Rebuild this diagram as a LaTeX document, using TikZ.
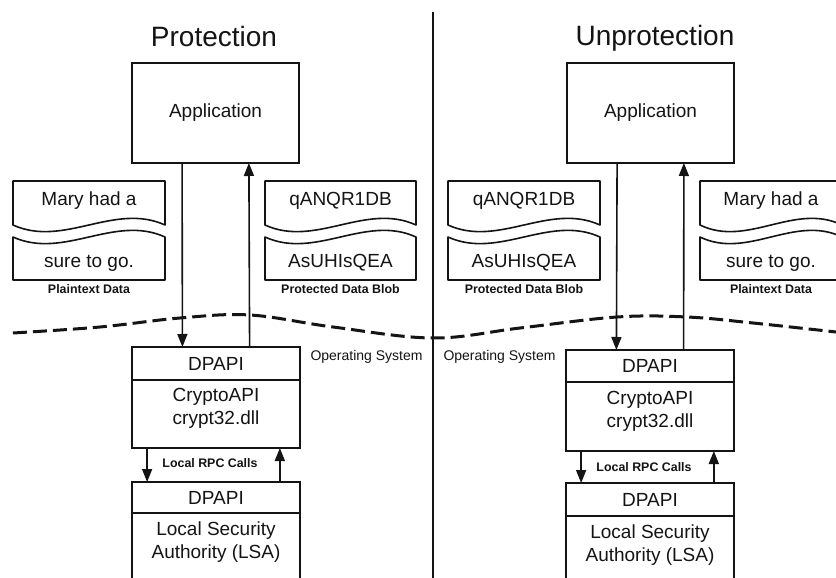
\documentclass[tikz,border=0pt]{standalone}
\usepackage{fontspec}
\setmainfont{Liberation Sans}
\usetikzlibrary{positioning,arrows.meta,calc}
\definecolor{ink}{RGB}{20,20,20}

\begin{document}
\begin{tikzpicture}[
  x=1pt, y=-1pt,
  >={Triangle[length=13pt,width=10pt]},
  box/.style={draw=ink, line width=1.6pt, inner sep=0pt, outer sep=0pt, align=center, text=ink, font=\fontsize{19}{23}\selectfont},
  hdr/.style={box, line width=1.8pt},
  ttl/.style={font=\fontsize{28}{32}\selectfont, text=ink, anchor=base},
  txt/.style={font=\fontsize{19}{23}\selectfont, text=ink, anchor=base},
  capt/.style={font=\bfseries\fontsize{12.4}{14}\selectfont, text=ink, anchor=base},
  os/.style={font=\fontsize{14}{16}\selectfont, text=ink, anchor=base west},
  flow/.style={->, line width=1.6pt, draw=ink},
  wave/.style={draw=ink, line width=1.6pt, line join=round},
]
\useasboundingbox (0,0) rectangle (836,578);
\fill[white] (0,0) rectangle (836,578);
\clip (0,0) rectangle (836,578);

% ---- titles and the split ----
\node[ttl] (tProt) at (214,47) {Protection};
\node[ttl] (tUnprot) at (655,46) {Unprotection};
\draw[ink, line width=2.8pt] (433,12) -- (433,578);

% ---- applications ----
\node[box, minimum width=167pt, minimum height=100pt] (appL) at (215.5,113) {Application};
\node[box, minimum width=167pt, minimum height=100pt] (appR) at (650.5,113) {Application};

% ---- data blobs (torn paper) ----
\foreach \x/\w/\nm/\ta/\tb/\cp in {13/152/plainL/Mary had a/sure to go./Plaintext Data,
    265/151/blobL/qANQR1DB/AsUHIsQEA/Protected Data Blob,
    448/152/blobR/qANQR1DB/AsUHIsQEA/Protected Data Blob,
    700/142/plainR/Mary had a/sure to go./Plaintext Data}{
  \draw[wave] (\x,181) -- ++(\w,0) -- ++(0,44) .. controls +(-\w/3,-23) and +(\w/3,23) .. ++(-\w,0) -- cycle;
  \draw[wave] (\x,237) .. controls +(\w/3,23) and +(-\w/3,-23) .. ++(\w,0) -- ++(0,43) -- ++(-\w,0) -- cycle;
  \node[txt] (\nm-a) at (\x+\w/2,205) {\ta};
  \node[txt] (\nm-b) at (\x+\w/2,267) {\tb};
  \node[capt] (\nm-c) at (\x+\w/2,293) {\cp};
}

% ---- OS boundary ----
\draw[ink, line width=3pt, dash pattern=on 14pt off 6pt] plot[smooth, tension=0.6] coordinates {
  (13,333) (100,327) (180,318) (250,315) (333,327) (433,338)
  (520,328) (617,317) (687,317) (753,323) (836,332)};
\node[os] (osL) at (307,360) {Operating System};
\node[os] (osR) at (440,360) {Operating System};

% ---- crypt32 stacks ----
\node[hdr, minimum width=168pt, minimum height=33pt] (hdL) at (216,363.5) {DPAPI};
\node[box, minimum width=168pt, minimum height=68pt, anchor=north, text depth=14.6pt] (crL) at (hdL.south) {CryptoAPI\\crypt32.dll};
\node[hdr, minimum width=168pt, minimum height=32pt] (hdR) at (650,366) {DPAPI};
\node[box, minimum width=168pt, minimum height=69pt, anchor=north, text depth=14.6pt] (crR) at (hdR.south) {CryptoAPI\\crypt32.dll};

% ---- LSA stacks (run off the bottom) ----
\node[hdr, minimum width=168pt, minimum height=31pt] (lsaHdL) at (216,497.5) {DPAPI};
\draw[ink, line width=1.6pt] (lsaHdL.south west) -- ++(0,80) (lsaHdL.south east) -- ++(0,80);
\node[box, draw=none, anchor=north, inner ysep=9pt] (lsaL) at (lsaHdL.south) {Local Security\\Authority (LSA)};
\node[hdr, minimum width=168pt, minimum height=33pt] (lsaHdR) at (650,499.5) {DPAPI};
\draw[ink, line width=1.6pt] (lsaHdR.south west) -- ++(0,80) (lsaHdR.south east) -- ++(0,80);
\node[box, draw=none, anchor=north, inner ysep=9pt] (lsaR) at (lsaHdR.south) {Local Security\\Authority (LSA)};

% ---- calls ----
\draw[flow] ($(appL.south west)!.3!(appL.south east)$) -- ($(hdL.north west)!.3!(hdL.north east)$);
\draw[flow] ($(hdL.north west)!.7!(hdL.north east)$) -- ($(appL.south west)!.7!(appL.south east)$);
\draw[flow] ($(appR.south west)!.3!(appR.south east)$) -- ($(hdR.north west)!.3!(hdR.north east)$);
\draw[flow] ($(hdR.north west)!.7!(hdR.north east)$) -- ($(appR.south west)!.7!(appR.south east)$);

\draw[flow] ($(crL.south west)!.09!(crL.south east)$) -- ($(lsaHdL.north west)!.09!(lsaHdL.north east)$);
\draw[flow] ($(lsaHdL.north west)!.88!(lsaHdL.north east)$) -- ($(crL.south west)!.88!(crL.south east)$);
\draw[flow] ($(crR.south west)!.09!(crR.south east)$) -- ($(lsaHdR.north west)!.09!(lsaHdR.north east)$);
\draw[flow] ($(lsaHdR.north west)!.88!(lsaHdR.north east)$) -- ($(crR.south west)!.88!(crR.south east)$);
\node[capt] (rpcL) at (210,467) {Local RPC Calls};
\node[capt] (rpcR) at (644,471) {Local RPC Calls};

\end{tikzpicture}
\end{document}
